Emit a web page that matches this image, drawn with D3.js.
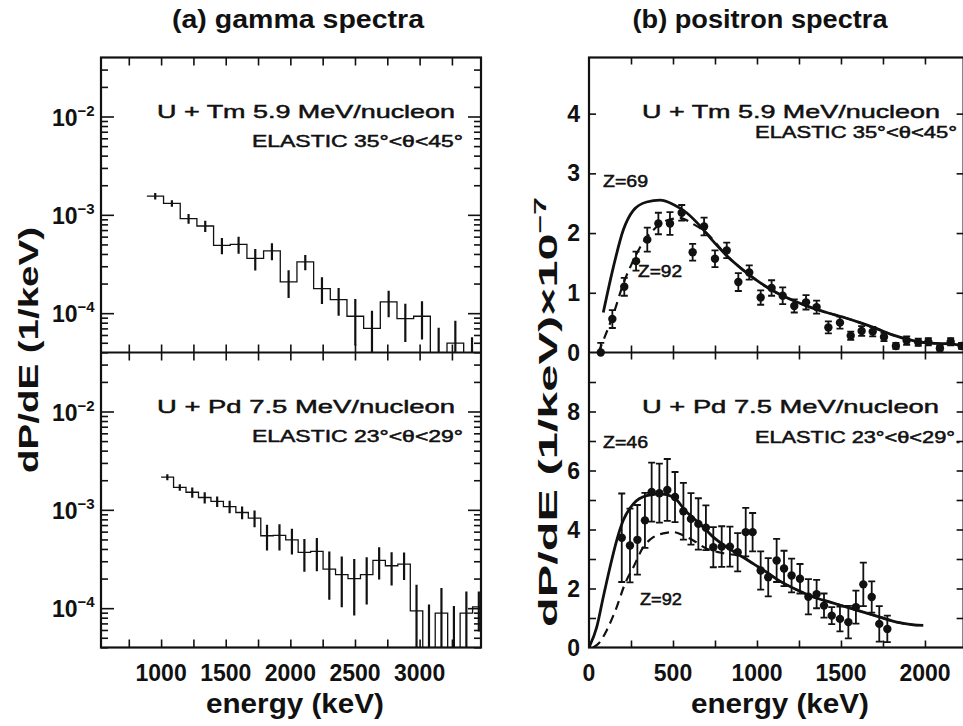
<!DOCTYPE html>
<html>
<head>
<meta charset="utf-8">
<title>gamma and positron spectra</title>
<script src="https://d3js.org/d3.v7.min.js"></script>
<style>
  body { margin: 0; background: #fff; }
  text { font-family: "Liberation Sans", Arial, sans-serif; fill: #111; }
  .bold { font-weight: bold; }
  .narrow { font-family: "Liberation Sans Narrow", "Liberation Sans", sans-serif; font-weight: bold; }
</style>
</head>
<body>
<div id="viz"></div>
<script>

// (a) gamma spectra, histogram bins in keV, contents in 1/keV
var tmGammaStart = 890, tmGammaWidth = 129;
var tmGammaVals = [1.55e-3, 1.31e-3, 9.15e-4, 7.7e-4, 4.9e-4, 5.0e-4, 3.6e-4, 4.3e-4, 2.08e-4, 3.32e-4,
                   1.78e-4, 1.37e-4, 9.3e-5, 7.0e-5, 1.30e-4, 8.8e-5, 9.3e-5, 2.5e-5, 4.95e-5, 2.0e-5];
var tmGammaErrs = [1.2e-4, 1.0e-4, 1.05e-4, 1.0e-4, 9.2e-5, 9.8e-5, 8.8e-5, 8.4e-5, 6.5e-5, 5.9e-5,
                   5.4e-5, 4.3e-5, 4.6e-5, 3.6e-5, 3.9e-5, 3.7e-5, 3.9e-5, 4.6e-5, 3.4e-5, 3.7e-5];

var pdGammaStart = 1000, pdGammaWidth = 96.4;
var pdGammaVals = [2.15e-3, 1.69e-3, 1.51e-3, 1.335e-3, 1.22e-3, 1.08e-3, 9.4e-4, 8.24e-4, 5.45e-4, 5.5e-4,
                   4.96e-4, 3.69e-4, 3.78e-4, 2.5e-4, 2.19e-4, 2.0e-4, 2.19e-4, 3.06e-4, 2.7e-4, 2.81e-4,
                   9.4e-5, 1.0e-5, 8.9e-5, 1.0e-5, 8.9e-5, 1.03e-4];
var pdGammaErrs = [1.5e-4, 1.3e-4, 1.8e-4, 1.75e-4, 1.5e-4, 1.55e-4, 1.4e-4, 1.6e-4, 1.6e-4, 1.65e-4,
                   1.45e-4, 1.35e-4, 1.4e-4, 1.28e-4, 1.17e-4, 1.16e-4, 1.1e-4, 1.1e-4, 1.0e-4, 8.8e-5,
                   7.9e-5, 9.9e-5, 7.1e-5, 9.5e-5, 5.9e-5, 4.5e-5];

// (b) positron spectra, energies in keV, values in 1e-7/keV
var tmPosE = [70, 139, 210, 280, 347, 413, 482, 552, 617, 685, 750, 820, 889, 954, 1022, 1087, 1153,
              1222, 1292, 1355, 1425, 1494, 1558, 1623, 1689, 1756, 1827, 1891, 1960, 2020, 2089, 2153, 2218];
var tmPosV = [0.0, 0.56, 1.10, 1.53, 1.89, 2.16, 2.16, 2.34, 1.68, 2.11, 1.57, 1.71, 1.18, 1.34, 0.92, 1.08, 0.95,
              0.78, 0.84, 0.76, 0.42, 0.50, 0.28, 0.36, 0.35, 0.26, 0.11, 0.20, 0.17, 0.18, 0.07, 0.18, 0.11];
var tmPosErr = [0.16, 0.15, 0.15, 0.16, 0.20, 0.18, 0.19, 0.13, 0.14, 0.15, 0.14, 0.13, 0.15, 0.12, 0.12, 0.13, 0.14,
                0.11, 0.12, 0.11, 0.10, 0.10, 0.07, 0.08, 0.08, 0.07, 0.05, 0.07, 0.06, 0.06, 0.04, 0.06, 0.05];

var tmZ69E = [85, 145, 204, 264, 343, 423, 502, 581, 661, 740, 820, 918, 1018, 1117, 1216, 1315, 1415,
              1514, 1613, 1713, 1812, 1911, 2010, 2109, 2208, 2240];
var tmZ69V = [0.67, 1.43, 2.05, 2.38, 2.52, 2.55, 2.48, 2.34, 2.12, 1.86, 1.62, 1.38, 1.17, 1.00, 0.87, 0.76, 0.67,
              0.59, 0.50, 0.40, 0.29, 0.21, 0.16, 0.15, 0.13, 0.12];
var tmZ92E = [56, 85, 145, 204, 264, 323, 383, 462, 542, 621, 700, 780, 820, 918, 1018, 1117, 1216, 1315, 1415,
              1514, 1613, 1713, 1812, 1911, 2010, 2109, 2208, 2240];
var tmZ92V = [0.0, 0.20, 0.64, 1.15, 1.54, 1.85, 2.05, 2.21, 2.25, 2.15, 2.00, 1.75, 1.62, 1.38, 1.17, 1.00, 0.87, 0.76, 0.67,
              0.59, 0.50, 0.40, 0.29, 0.21, 0.16, 0.15, 0.13, 0.12];

var pdPosE = [195, 244, 288, 333, 373, 419, 466, 512, 562, 607, 651, 696, 740, 790, 839, 885, 933, 974,
              1022, 1067, 1117, 1161, 1206, 1256, 1306, 1355, 1399, 1445, 1494, 1544, 1589, 1633, 1683, 1728, 1776];
var pdPosV = [3.72, 3.46, 3.65, 4.31, 5.27, 5.23, 5.34, 5.10, 4.62, 4.36, 4.19, 4.06, 3.40, 3.42, 3.42, 3.23, 3.91, 3.91,
              2.61, 2.38, 2.95, 2.68, 2.44, 2.33, 1.72, 1.81, 1.42, 1.08, 0.97, 0.86, 1.37, 2.14, 1.71, 0.80, 0.63];
var pdPosErr = [1.50, 1.25, 1.18, 0.93, 1.00, 1.00, 1.05, 0.85, 0.96, 0.87, 0.87, 0.76, 0.68, 0.69, 0.68, 0.65, 0.82, 0.65,
                0.65, 0.65, 0.73, 0.60, 0.57, 0.50, 0.60, 0.48, 0.41, 0.29, 0.42, 0.55, 0.56, 0.74, 0.53, 0.60, 0.45];

var pdZ46E = [0, 46, 85, 125, 165, 204, 264, 343, 423, 502, 581, 661, 740, 820, 899, 978, 1058, 1137,
              1236, 1335, 1435, 1534, 1633, 1732, 1832, 1931, 1990];
var pdZ46V = [0.0, 0.69, 1.71, 2.72, 3.63, 4.31, 4.87, 5.15, 5.21, 5.10, 4.59, 4.19, 3.74, 3.40, 3.12, 2.84, 2.55, 2.25,
              1.96, 1.71, 1.54, 1.37, 1.20, 1.03, 0.86, 0.77, 0.75];
var pdZ92E = [25, 60, 105, 165, 214, 264, 323, 383, 442, 502, 562, 621, 700, 780, 840, 899, 978, 1058, 1137,
              1236, 1335, 1435, 1534, 1633, 1732, 1832, 1931, 1990];
var pdZ92V = [0.0, 0.15, 0.58, 1.37, 2.16, 2.72, 3.40, 3.74, 3.87, 3.91, 3.80, 3.63, 3.35, 3.22, 3.16, 3.12, 2.84, 2.55, 2.25,
              1.96, 1.71, 1.54, 1.37, 1.20, 1.03, 0.86, 0.77, 0.75];

// tick values
var gammaTicks = d3.range(750, 3475, 250);
var gammaLabels = [1000, 1500, 2000, 2500, 3000];
var posTicks = d3.range(250, 2230, 250);
var posLabels = [0, 500, 1000, 1500, 2000];
var decades = [-2, -3, -4];
var tmYTicks = [1, 2, 3, 4];
var pdYTicks = d3.range(1, 10);
var pdYLabels = [0, 2, 4, 6, 8];

// layout
var W = 963, H = 726;
var top0 = 57.5, mid = 352.5, bot = 647.5;
var gl = 101, gr = 481, pl = 589, pr = 963.6;

var svg = d3.select("#viz").append("svg")
  .attr("width", W).attr("height", H)
  .style("background", "#fff");

var xg = d3.scaleLinear().domain([535, 3475]).range([gl, gr]);
var ygTop = d3.scaleLog().domain([Math.pow(10, -4.4), Math.pow(10, -1.4)]).range([mid, top0]);
var ygBot = d3.scaleLog().domain([Math.pow(10, -4.4), Math.pow(10, -1.4)]).range([bot, mid]);
var xp = d3.scaleLinear().domain([0, 2230]).range([pl, pr]);
var yTm = d3.scaleLinear().domain([0, 4.94]).range([mid, top0]);
var yPd = d3.scaleLinear().domain([0, 10]).range([bot, mid]);

var defs = svg.append("defs");
function clip(id, x0, y0, x1, y1) {
  defs.append("clipPath").attr("id", id).append("rect")
    .attr("x", x0).attr("y", y0).attr("width", x1 - x0).attr("height", y1 - y0);
  return "url(#" + id + ")";
}

// log minor tick values inside the domain
function logTicks(scale) {
  var d = scale.domain(), out = [];
  for (var e = -5; e <= -1; e++)
    for (var k = 1; k < 10; k++) {
      var v = k * Math.pow(10, e);
      if (v > d[0] && v < d[1]) out.push(v);
    }
  return out;
}

function tickAxis(axis, tx, ty, vals, len) {
  svg.append("g")
    .attr("transform", "translate(" + tx + "," + ty + ")")
    .call(axis.tickValues(vals).tickSize(len).tickFormat(""))
    .call(function(g) { g.select(".domain").remove(); })
    .selectAll("line").attr("stroke", "#111").attr("stroke-width", 1.6);
}

// ---------- gamma panels ----------
function gammaPanel(ys, y0, y1, start, width, vals, errs, id) {
  var cp = clip(id, gl, y0, gr, y1);
  var pts = vals.map(function(v, i) { return [start + i * width, v]; });
  pts.push([start + vals.length * width, vals[vals.length - 1]]);

  svg.append("path")
    .datum(pts)
    .attr("clip-path", cp)
    .attr("fill", "none")
    .attr("stroke", "#111")
    .attr("stroke-width", 1.3)
    .attr("d", d3.line()
      .x(function(d) { return xg(d[0]); })
      .y(function(d) { return ys(d[1]); })
      .curve(d3.curveStepAfter));

  svg.append("g").attr("clip-path", cp)
    .selectAll("line")
    .data(vals)
    .join("line")
      .attr("x1", function(d, i) { return xg(start + (i + 0.5) * width); })
      .attr("x2", function(d, i) { return xg(start + (i + 0.5) * width); })
      .attr("y1", function(d, i) { return ys(Math.max(d - errs[i], 1e-7)); })
      .attr("y2", function(d, i) { return ys(d + errs[i]); })
      .attr("stroke", "#111")
      .attr("stroke-width", 2.2);

  // y ticks, left and right
  var all = logTicks(ys);
  var major = all.filter(function(v) { return Math.abs(Math.log10(v) - Math.round(Math.log10(v))) < 1e-9; });
  var minor = all.filter(function(v) { return major.indexOf(v) < 0; });
  tickAxis(d3.axisLeft(ys), gl, 0, major, -13);
  tickAxis(d3.axisLeft(ys), gl, 0, minor, -7);
  tickAxis(d3.axisRight(ys), gr, 0, major, -13);
  tickAxis(d3.axisRight(ys), gr, 0, minor, -7);
  tickAxis(d3.axisBottom(xg), 0, y1, gammaTicks, -8);
  tickAxis(d3.axisTop(xg), 0, y0, gammaTicks, -8);

  // decade labels 10^n
  var lab = svg.append("g").selectAll("text")
    .data(decades)
    .join("text")
      .attr("class", "narrow")
      .attr("x", 52)
      .attr("y", function(d) { return ys(Math.pow(10, d)) + 9; })
      .style("font-size", "23px");
  lab.append("tspan").text("10");
  lab.append("tspan")
    .attr("dy", -10)
    .style("font-size", "15px")
    .text(function(d) { return "\u2212" + (-d); });
}

gammaPanel(ygTop, top0, mid, tmGammaStart, tmGammaWidth, tmGammaVals, tmGammaErrs, "cgt");
gammaPanel(ygBot, mid, bot, pdGammaStart, pdGammaWidth, pdGammaVals, pdGammaErrs, "cgb");

svg.append("rect").attr("x", gl).attr("y", top0).attr("width", gr - gl).attr("height", bot - top0)
  .attr("fill", "none").attr("stroke", "#111").attr("stroke-width", 2.2);
svg.append("line").attr("x1", gl).attr("x2", gr).attr("y1", mid).attr("y2", mid)
  .attr("stroke", "#111").attr("stroke-width", 2);

svg.append("g").selectAll("text")
  .data(gammaLabels)
  .join("text")
    .attr("class", "narrow")
    .attr("x", function(d) { return xg(d); })
    .attr("y", 681)
    .attr("text-anchor", "middle")
    .style("font-size", "23px")
    .text(function(d) { return d; });

// ---------- positron panels ----------
function posPanel(ys, y0, y1, E, V, Er, solidE, solidV, dashE, dashV, yt, yl, id) {
  var cp = clip(id, pl, y0, pr, y1);
  var line = d3.line()
    .x(function(d) { return xp(d[0]); })
    .y(function(d) { return ys(d[1]); })
    .curve(d3.curveMonotoneX);

  svg.append("path")
    .datum(solidE.map(function(e, i) { return [e, solidV[i]]; }))
    .attr("clip-path", cp)
    .attr("fill", "none").attr("stroke", "#111").attr("stroke-width", 2.8)
    .attr("d", line);
  svg.append("path")
    .datum(dashE.map(function(e, i) { return [e, dashV[i]]; }))
    .attr("clip-path", cp)
    .attr("fill", "none").attr("stroke", "#111").attr("stroke-width", 2.2)
    .attr("stroke-dasharray", "9,6")
    .attr("d", line);

  var g = svg.append("g");
  var pts = E.map(function(e, i) { return {e: e, v: V[i], er: Er[i]}; });
  g.selectAll(".eb")
    .data(pts)
    .join("path")
      .attr("fill", "none").attr("stroke", "#111").attr("stroke-width", 1.8)
      .attr("d", function(d) {
        var x = xp(d.e), lo = ys(Math.max(d.v - d.er, 0)), hi = ys(d.v + d.er);
        return "M" + (x - 3.5) + "," + hi + "H" + (x + 3.5) + "M" + x + "," + hi + "V" + lo +
               (d.v - d.er > 0 ? "M" + (x - 3.5) + "," + lo + "H" + (x + 3.5) : "");
      });
  g.selectAll("circle")
    .data(pts)
    .join("circle")
      .attr("cx", function(d) { return xp(d.e); })
      .attr("cy", function(d) { return ys(d.v); })
      .attr("r", 4.2)
      .attr("fill", "#111");

  tickAxis(d3.axisBottom(xp), 0, y1, posTicks, -7);
  tickAxis(d3.axisTop(xp), 0, y0, posTicks, -7);
  tickAxis(d3.axisLeft(ys), pl, 0, yt, -7);
  tickAxis(d3.axisRight(ys), pr, 0, yt, -7);

  svg.append("g").selectAll("text")
    .data(yl)
    .join("text")
      .attr("class", "narrow")
      .attr("x", 580)
      .attr("y", function(d) { return ys(d) + 8; })
      .attr("text-anchor", "end")
      .style("font-size", "23px")
      .text(function(d) { return d; });
}

posPanel(yTm, top0, mid, tmPosE, tmPosV, tmPosErr, tmZ69E, tmZ69V, tmZ92E, tmZ92V, tmYTicks, [0, 1, 2, 3, 4], "cpt");
posPanel(yPd, mid, bot, pdPosE, pdPosV, pdPosErr, pdZ46E, pdZ46V, pdZ92E, pdZ92V, pdYTicks, pdYLabels, "cpb");

svg.append("rect").attr("x", pl).attr("y", top0).attr("width", pr - pl).attr("height", bot - top0)
  .attr("fill", "none").attr("stroke", "#111").attr("stroke-width", 2.2);
svg.append("line").attr("x1", pl).attr("x2", pr).attr("y1", mid).attr("y2", mid)
  .attr("stroke", "#111").attr("stroke-width", 2);

svg.append("g").selectAll("text")
  .data(posLabels)
  .join("text")
    .attr("class", "narrow")
    .attr("x", function(d) { return xp(d); })
    .attr("y", 681)
    .attr("text-anchor", "middle")
    .style("font-size", "23px")
    .text(function(d) { return d; });

// ---------- texts ----------
function txt(x, y, s, size, len, anchor, cls) {
  return svg.append("text")
    .attr("x", x).attr("y", y)
    .attr("text-anchor", anchor || "start")
    .attr("class", cls || "")
    .attr("textLength", len).attr("lengthAdjust", "spacingAndGlyphs")
    .style("font-size", size + "px")
    .style("stroke", "#111").style("stroke-width", cls ? 0 : 0.5)
    .text(s);
}

txt(298, 28, "(a) gamma spectra", 26, 252, "middle", "bold");
txt(760, 28, "(b) positron spectra", 26, 255, "middle", "bold");
txt(295, 713, "energy (keV)", 28, 178, "middle", "bold");
txt(780, 713, "energy (keV)", 28, 178, "middle", "bold");

txt(157, 118, "U + Tm 5.9 MeV/nucleon", 19, 298);
txt(252, 147, "ELASTIC 35\u00b0<\u03b8<45\u00b0", 17, 211);
txt(157, 413, "U + Pd 7.5 MeV/nucleon", 19, 298);
txt(252, 442, "ELASTIC 23\u00b0<\u03b8<29\u00b0", 17, 211);

txt(642, 118, "U + Tm 5.9 MeV/nucleon", 19, 298);
txt(755, 138, "ELASTIC 35\u00b0<\u03b8<45\u00b0", 16, 202);
txt(603, 187, "Z=69", 16, 45);
txt(638, 277, "Z=92", 16, 44);
txt(642, 413, "U + Pd 7.5 MeV/nucleon", 19, 297);
txt(755, 443, "ELASTIC 23\u00b0<\u03b8<29\u00b0.", 16, 206);
txt(603, 448, "Z=46", 16, 45);
txt(640, 605, "Z=92", 16, 42);

// y titles
svg.append("text")
  .attr("class", "bold")
  .attr("transform", "translate(38,350) rotate(-90)")
  .attr("text-anchor", "middle")
  .attr("textLength", 246).attr("lengthAdjust", "spacingAndGlyphs")
  .style("font-size", "27px")
  .text("dP/dE (1/keV)");

var yt2 = svg.append("text")
  .attr("class", "bold")
  .attr("transform", "translate(557,412) rotate(-90)")
  .attr("text-anchor", "middle")
  .attr("textLength", 430).attr("lengthAdjust", "spacingAndGlyphs")
  .style("font-size", "26px");
yt2.append("tspan").text("dP/dE (1/keV)\u00d710");
yt2.append("tspan").attr("dy", -11).style("font-size", "17px").text("\u22127");

</script>
</body>
</html>
